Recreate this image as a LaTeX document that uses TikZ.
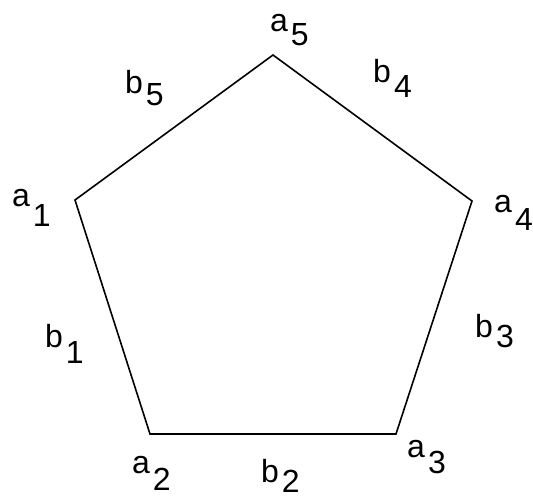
\documentclass[tikz,border=0pt]{standalone}
\usepackage{fontspec}
\setmainfont{Liberation Sans}
\usepackage{xcolor}
\usepackage{tikz}
\usetikzlibrary{positioning}
\definecolor{pgInk}{HTML}{000000}
\newcommand{\sublab}[3][14pt]{#2\hspace{3pt}\raisebox{-#1}{#3}}
\tikzset{
  pg diagram/.style={font=\fontsize{32}{36}\selectfont, text=pgInk,
    line cap=round, line join=miter},
  pg edge/.style={draw=pgInk, line width=1.6pt},
  pg label/.style={inner sep=0pt, anchor=base west}
}

\begin{document}
\begin{tikzpicture}[pg diagram,x=1pt,y=-1pt]
\useasboundingbox (0,0) rectangle (533,498);
\coordinate (v5) at (273,55);
\coordinate (v4) at (472,201);
\coordinate (v3) at (396,434);
\coordinate (v2) at (150,434);
\coordinate (v1) at (75,200);
\draw[pg edge] (v1) -- (v2) -- (v3) -- (v4) -- (v5) -- cycle;
% corner labels
\node[pg label] (a5) at (270,31) {\sublab{a}{5}};
\node[pg label] (a1) at (12,206) {\sublab[20pt]{a}{1}};
\node[pg label] (a2) at (132,473) {\sublab[17pt]{a}{2}};
\node[pg label] (a3) at (407,457) {\sublab[16pt]{a}{3}};
\node[pg label] (a4) at (494,212) {\sublab[18pt]{a}{4}};
% side labels
\node[pg label] (b1) at (45,347) {\sublab[16pt]{b}{1}};
\node[pg label] (b2) at (261,482) {\sublab[10pt]{b}{2}};
\node[pg label] (b3) at (475,337) {\sublab[10pt]{b}{3}};
\node[pg label] (b4) at (373,82) {\sublab[15pt]{b}{4}};
\node[pg label] (b5) at (125,93) {\sublab[12pt]{b}{5}};
\end{tikzpicture}
\end{document}
